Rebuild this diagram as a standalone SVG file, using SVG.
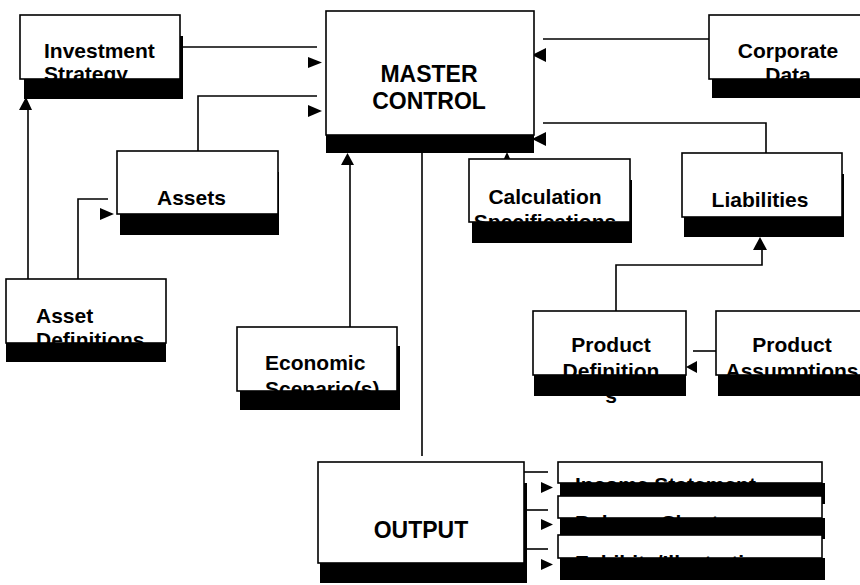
<svg xmlns="http://www.w3.org/2000/svg" width="860" height="585" viewBox="0 0 860 585">
  <style>
    .box { fill: #ffffff; stroke: #000000; stroke-width: 1.6; }
    .shadow { fill: #000000; }
    .lbl { font-family: "Liberation Sans", Arial, sans-serif; font-weight: bold; font-size: 21px; fill: #000000; }
    .big { font-size: 23px; }
    .mid { text-anchor: middle; }
    .wire { fill: none; stroke: #000000; stroke-width: 1.6; }
    .head { fill: #000000; }
  </style>
  <rect width="860" height="585" fill="#ffffff"/>

  <!-- connectors: wires and their arrowheads -->
  <g id="connectors">
    <!-- Investment Strategy to Master Control -->
    <path class="wire" d="M180 47 H317"/>
    <polygon class="head" points="308,57 308,68 322,62.5"/>
    <!-- Assets to Master Control -->
    <path class="wire" d="M198 151 V96 H317"/>
    <polygon class="head" points="308,105 308,117 322,111"/>
    <!-- Asset Definitions to Investment Strategy -->
    <path class="wire" d="M28 279 V109"/>
    <polygon class="head" points="19,110 32,110 26,97"/>
    <!-- Asset Definitions to Assets -->
    <path class="wire" d="M78 279 V199 H108"/>
    <polygon class="head" points="100,208 100,220 114,214"/>
    <!-- Economic Scenario(s) to Master Control -->
    <path class="wire" d="M350 327 V164"/>
    <polygon class="head" points="341,165 354,165 347.5,153"/>
    <!-- Master Control to Output -->
    <path class="wire" d="M422 150 V456"/>
    <!-- Calculation Specifications to Master Control -->
    <polygon class="head" points="501,165 513,165 507,152"/>
    <!-- Corporate Data to Master Control -->
    <path class="wire" d="M709 39 H543"/>
    <polygon class="head" points="532,55 546,48 546,62"/>
    <!-- Liabilities to Master Control -->
    <path class="wire" d="M766 153 V123 H543"/>
    <polygon class="head" points="532,139 546,132 546,146"/>
    <!-- Product Definitions to Liabilities -->
    <path class="wire" d="M616 311 V265 H762 V250"/>
    <polygon class="head" points="753,250 767,250 760,237"/>
    <!-- Product Assumptions to Product Definitions -->
    <path class="wire" d="M716 351 H693"/>
    <polygon class="head" points="686,367 697,361 697,373"/>
    <!-- Output to reports -->
    <path class="wire" d="M524 472 H548"/>
    <polygon class="head" points="541,482 541,493 553,487.5"/>
    <path class="wire" d="M524 510 H548"/>
    <polygon class="head" points="541,519 541,530 553,524.5"/>
    <path class="wire" d="M524 549 H548"/>
    <polygon class="head" points="541,559 541,570 553,564.5"/>
  </g>

  <g id="investment-strategy">
    <rect class="shadow" x="24" y="36" width="159" height="63"/>
    <rect class="box" x="20" y="15" width="160" height="64"/>
    <text class="lbl" x="44" y="58">Investment</text>
    <text class="lbl" x="44" y="81">Strategy</text>
  </g>

  <g id="master-control">
    <rect class="shadow" x="326" y="29" width="208" height="124"/>
    <rect class="box" x="326" y="11" width="208" height="124"/>
    <text class="lbl big mid" x="429" y="82">MASTER</text>
    <text class="lbl big mid" x="429" y="109">CONTROL</text>
  </g>

  <g id="corporate-data">
    <rect class="shadow" x="712" y="34" width="160" height="64"/>
    <rect class="box" x="709" y="15" width="160" height="64"/>
    <text class="lbl mid" x="788" y="58">Corporate</text>
    <text class="lbl mid" x="788" y="82">Data</text>
  </g>

  <g id="assets">
    <rect class="shadow" x="120" y="172" width="159" height="63"/>
    <rect class="box" x="117" y="151" width="161" height="63"/>
    <text class="lbl" x="157" y="205">Assets</text>
  </g>

  <g id="calculation-specifications">
    <rect class="shadow" x="472" y="180" width="160" height="63"/>
    <rect class="box" x="469" y="159" width="161" height="63"/>
    <text class="lbl mid" x="545" y="204">Calculation</text>
    <text class="lbl mid" x="545" y="229">Specifications</text>
  </g>

  <g id="liabilities">
    <rect class="shadow" x="684" y="174" width="160" height="63"/>
    <rect class="box" x="682" y="153" width="160" height="64"/>
    <text class="lbl mid" x="760" y="207">Liabilities</text>
  </g>

  <g id="asset-definitions">
    <rect class="shadow" x="6" y="298" width="160" height="64"/>
    <rect class="box" x="6" y="279" width="160" height="64"/>
    <text class="lbl" x="36" y="323">Asset</text>
    <text class="lbl" x="36" y="347">Definitions</text>
  </g>

  <g id="economic-scenarios">
    <rect class="shadow" x="240" y="346" width="160" height="64"/>
    <rect class="box" x="237" y="327" width="160" height="64"/>
    <text class="lbl" x="265" y="370">Economic</text>
    <text class="lbl" x="265" y="396">Scenario(s)</text>
  </g>

  <g id="product-definitions">
    <rect class="shadow" x="534" y="332" width="152" height="64"/>
    <rect class="box" x="533" y="311" width="153" height="64"/>
    <text class="lbl mid" x="611" y="352">Product</text>
    <text class="lbl mid" x="611" y="378">Definition</text>
    <text class="lbl mid" x="611" y="403">s</text>
  </g>

  <g id="product-assumptions">
    <rect class="shadow" x="718" y="332" width="153" height="64"/>
    <rect class="box" x="716" y="311" width="153" height="64"/>
    <text class="lbl mid" x="792" y="352">Product</text>
    <text class="lbl mid" x="792" y="378">Assumptions</text>
  </g>

  <g id="output">
    <rect class="shadow" x="320" y="483" width="207" height="100"/>
    <rect class="box" x="318" y="462" width="206" height="101"/>
    <text class="lbl big mid" x="421" y="538">OUTPUT</text>
  </g>

  <g id="income-statement">
    <rect class="shadow" x="560" y="483" width="265" height="21"/>
    <rect class="box" x="558" y="462" width="264" height="21"/>
    <text class="lbl" x="575" y="492">Income Statement</text>
  </g>

  <g id="balance-sheet">
    <rect class="shadow" x="560" y="518" width="265" height="21"/>
    <rect class="box" x="558" y="496" width="264" height="22"/>
    <text class="lbl" x="575" y="530">Balance Sheet</text>
  </g>

  <g id="exhibits-illustrations">
    <rect class="shadow" x="560" y="558" width="265" height="22"/>
    <rect class="box" x="558" y="535" width="264" height="23"/>
    <text class="lbl" x="575" y="570">Exhibits/Illustrations</text>
  </g>
</svg>
